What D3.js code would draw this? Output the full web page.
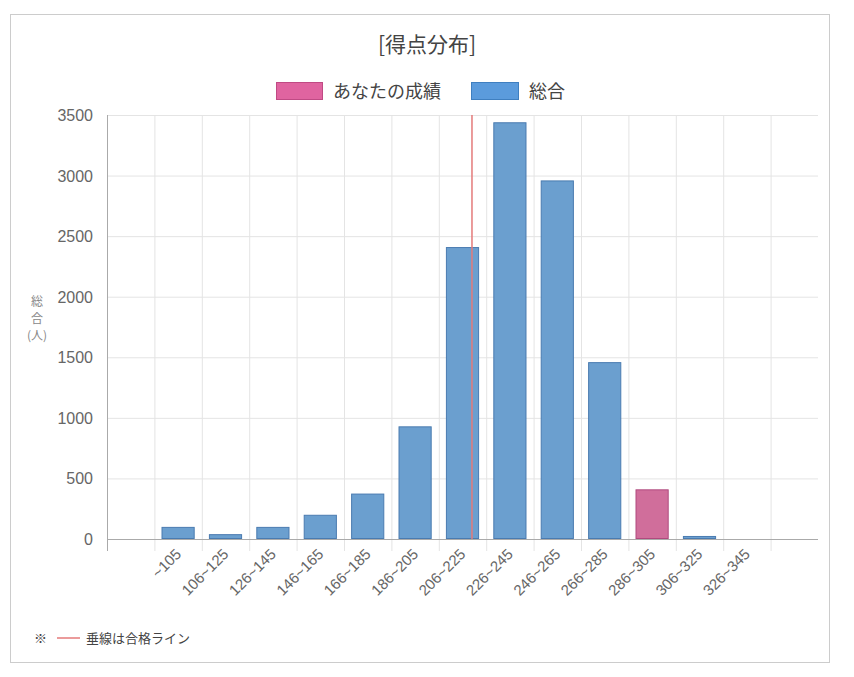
<!DOCTYPE html>
<html><head><meta charset="utf-8">
<script src="https://cdn.jsdelivr.net/npm/d3@7"></script>
<style>body{margin:0;background:#fff;font-family:"Noto Sans CJK JP","Liberation Sans",sans-serif}</style>
</head><body><svg id="c" width="854" height="677"></svg>
<script>
const slots = ["", "~105","106~125","126~145","146~165","166~185","186~205","206~225","226~245","246~265","266~285","286~305","306~325","326~345", ""];
const categories = slots.slice(1, 14);
const values = [100,40,100,200,375,930,2410,3440,2960,1460,410,25,0];
const mine = "286~305";
const yTicks = [0,500,1000,1500,2000,2500,3000,3500];
const passSlot = 7.7; // pass line position in slot units from left of plot
const svg = d3.select("#c");
const L=107,R=818,T=115,B=539;
svg.append("rect").attr("x",10.5).attr("y",14.5).attr("width",819).attr("height",648).attr("fill","none").attr("stroke","#ccc");
svg.append("text").attr("x",427).attr("y",52).attr("text-anchor","middle").attr("font-size",21).attr("fill","#444").text("[得点分布]");
const x = d3.scaleBand().domain(slots.map((d,i)=>i)).range([L,R]).paddingInner(0).paddingOuter(0);
const y = d3.scaleLinear().domain([0,3500]).range([B,T]);
// grid
svg.append("g").selectAll("line").data(yTicks).join("line").attr("x1",L).attr("x2",R).attr("y1",d=>y(d)+.5).attr("y2",d=>y(d)+.5).attr("stroke","#e4e4e4");
svg.append("g").selectAll("line").data(d3.range(1,slots.length)).join("line").attr("x1",d=>x(d)+.5).attr("x2",d=>x(d)+.5).attr("y1",T).attr("y2",B+12).attr("stroke","#e4e4e4");
svg.append("line").attr("x1",L+.5).attr("x2",L+.5).attr("y1",T).attr("y2",B+12).attr("stroke","#aaa");
// y labels
svg.append("g").selectAll("text").data(yTicks).join("text").attr("x",L-14).attr("y",d=>y(d)+6).attr("text-anchor","end").attr("font-size",16).attr("fill","#666").attr("font-family","Liberation Sans").text(d=>d);
svg.append("g").selectAll("text").data(["総","合","(人)"]).join("text").attr("x",37).attr("y",(d,i)=>306+i*17).attr("text-anchor","middle").attr("font-size",12).attr("fill","#888").text(d=>d);
// bars
const bw = x.bandwidth()*0.7;
svg.append("g").selectAll("rect").data(categories).join("rect")
 .attr("x",(d,i)=>x(i+1)+(x.bandwidth()-bw)/2+.5).attr("width",bw-1)
 .attr("y",(d,i)=>y(values[i])+.5).attr("height",(d,i)=>Math.max(0,B-y(values[i])-1))
 .attr("fill",d=>d===mine?"#d06e9b":"#6b9fcf").attr("stroke",d=>d===mine?"#b04a7e":"#4a7bb0");
svg.append("line").attr("x1",L).attr("x2",R).attr("y1",B+.5).attr("y2",B+.5).attr("stroke","#aaa");
// pass line
const px = L + passSlot*x.bandwidth();
svg.append("line").attr("x1",px).attr("x2",px).attr("y1",T).attr("y2",B).attr("stroke","#e47a7a").attr("stroke-width",1.5);
// x labels
svg.append("g").selectAll("text").data(categories).join("text")
 .attr("transform",(d,i)=>`translate(${x(i+1)+x.bandwidth()/2+4},${B+16}) rotate(-45)`)
 .attr("text-anchor","end").attr("font-size",15).attr("fill","#666").attr("font-family","Liberation Sans").text(d=>d);
// legend
svg.append("rect").attr("x",276.5).attr("y",82.5).attr("width",46).attr("height",17).attr("fill","#e064a0").attr("stroke","#c04a84");
svg.append("text").attr("x",333).attr("y",98).attr("font-size",18).attr("fill","#444").text("あなたの成績");
svg.append("rect").attr("x",471.5).attr("y",82.5).attr("width",47).attr("height",17).attr("fill","#5b9bdc").attr("stroke","#3f7fc0");
svg.append("text").attr("x",529).attr("y",98).attr("font-size",18).attr("fill","#444").text("総合");
// footnote
svg.append("text").attr("x",34).attr("y",643).attr("font-size",13).attr("fill","#444").text("※");
svg.append("line").attr("x1",57).attr("x2",80).attr("y1",638).attr("y2",638).attr("stroke","#e47a7a").attr("stroke-width",1.5);
svg.append("text").attr("x",86).attr("y",643).attr("font-size",13).attr("fill","#444").text("垂線は合格ライン");
</script></body></html>
